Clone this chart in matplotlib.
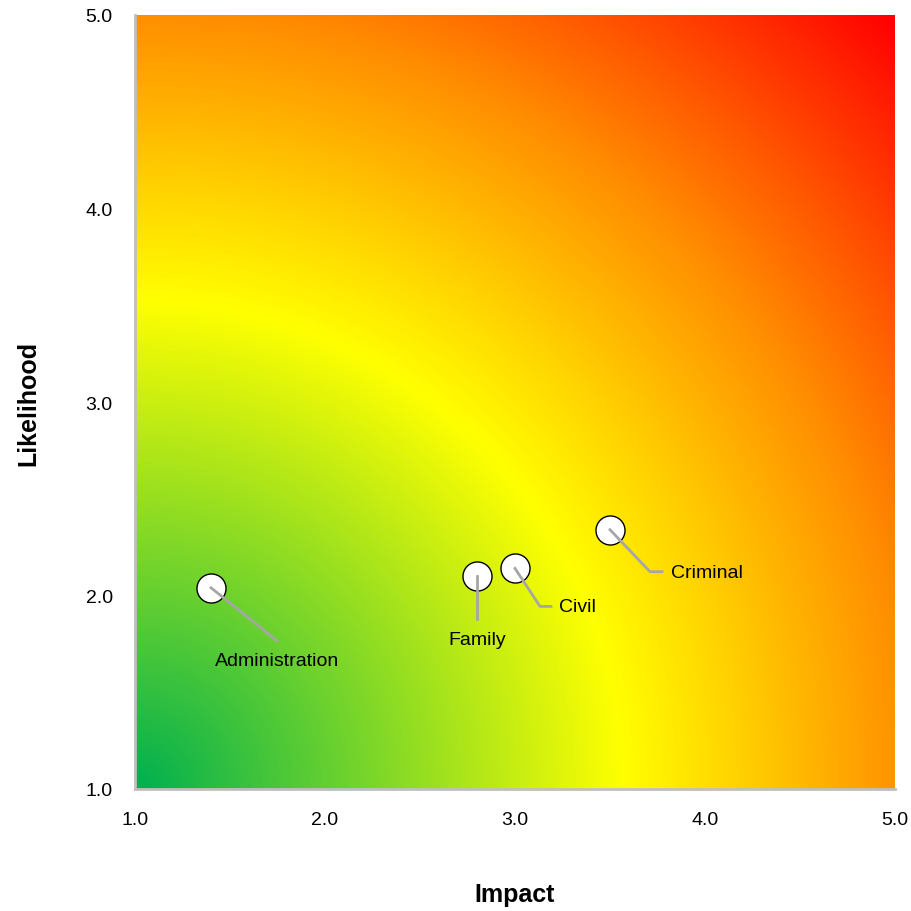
import numpy as np
import matplotlib
matplotlib.use("Agg")
import matplotlib.pyplot as plt
from matplotlib.colors import LinearSegmentedColormap
from matplotlib.transforms import IdentityTransform

plt.rcParams["font.family"] = ["Liberation Sans Narrow", "Liberation Sans", "DejaVu Sans"]

# risk data
categories = ["Administration", "Family", "Civil", "Criminal"]
impact = [1.4, 2.8, 3.0, 3.5]
likelihood = [2.04, 2.1, 2.14, 2.34]
ticks = [1.0, 2.0, 3.0, 4.0, 5.0]
tick_labels = ["1.0", "2.0", "3.0", "4.0", "5.0"]

# leader line offsets (pixels, y down) and label offset / alignment
leaders = {
    "Administration": ([(0, 0), (66, 53)], (66, 73), "center"),
    "Family": ([(0, 0), (0, 43)], (0, 63), "center"),
    "Civil": ([(0, 0), (25, 38), (36, 38)], (44, 38), "left"),
    "Criminal": ([(0, 0), (40, 42), (52, 42)], (61, 43), "left"),
}

fig = plt.figure(figsize=(9.11, 9.12), dpi=100)
ax = fig.add_axes([135 / 911, 122 / 912, 760 / 911, 774 / 912])

# radial background gradient from the bottom-left corner
cmap = LinearSegmentedColormap.from_list(
    "risk",
    [(0.0, "#00B050"), (0.45, "#FFFF00"), (0.72, "#FF8C00"), (1.0, "#FF0000")],
)
w_px, h_px = 760, 774
gx, gy = np.meshgrid(np.linspace(0, w_px, 400), np.linspace(0, h_px, 400))
dist = np.hypot(gx, gy) / np.hypot(w_px, h_px)
ax.imshow(dist, cmap=cmap, origin="lower", extent=[1, 5, 1, 5],
          aspect="auto", interpolation="bilinear", vmin=0, vmax=1, zorder=0)

ax.set_xlim(1, 5)
ax.set_ylim(1, 5)

ax.scatter(impact, likelihood, s=29 ** 2 * 0.52, facecolor="white",
           edgecolor="black", linewidth=1.0, zorder=3)

fig.canvas.draw()
for name, x, y in zip(categories, impact, likelihood):
    path, text_off, ha = leaders[name]
    bx, by = ax.transData.transform((x, y))
    xs = [bx + dx for dx, dy in path]
    ys = [by - dy for dx, dy in path]
    ax.add_line(plt.Line2D(xs, ys, transform=IdentityTransform(),
                           color="#A6A6A6", lw=2, zorder=4))
    ax.text(bx + text_off[0], by - text_off[1], name, transform=IdentityTransform(),
            ha=ha, va="center", fontsize=14, color="black", zorder=5)

ax.set_xticks(ticks)
ax.set_xticklabels(tick_labels)
ax.set_yticks(ticks)
ax.set_yticklabels(tick_labels)
ax.tick_params(length=0, labelsize=14, pad=16)

for side in ["top", "right"]:
    ax.spines[side].set_visible(False)
for side in ["left", "bottom"]:
    ax.spines[side].set_color("#BFBFBF")
    ax.spines[side].set_linewidth(2)

ax.set_xlabel("Impact", fontsize=18, fontweight="bold", va="center")
ax.set_ylabel("Likelihood", fontsize=18, fontweight="bold", va="center")
ax.xaxis.set_label_coords(0.5, -105 / 774)
ax.yaxis.set_label_coords(-107 / 760, 0.5)

fig.savefig("out.png", dpi=100)
